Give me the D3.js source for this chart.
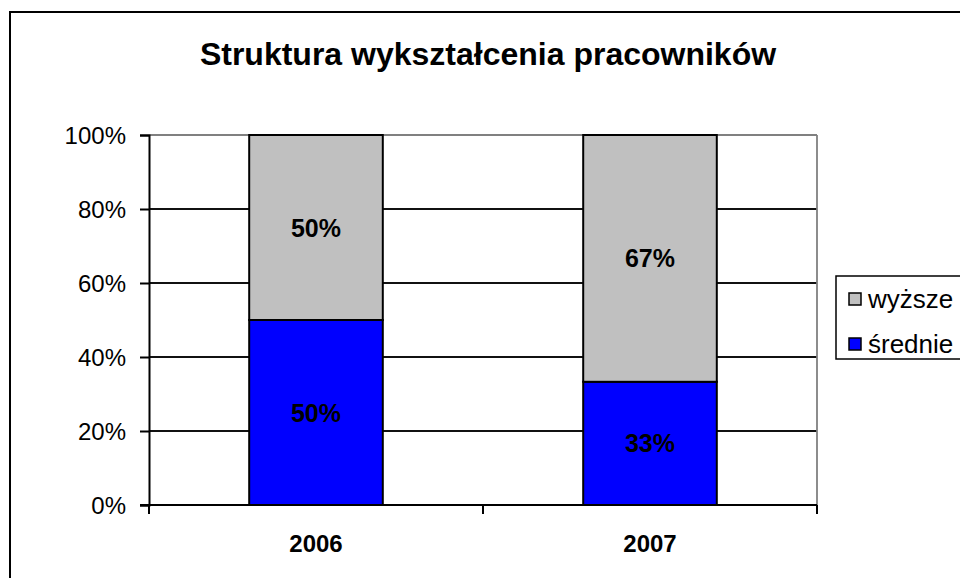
<html>
<head>
<meta charset="utf-8">
<script src="https://d3js.org/d3.v7.min.js"></script>
<style>
  body { margin: 0; background: #fff; }
  text { font-family: "Liberation Sans", Arial, sans-serif; }
</style>
</head>
<body>
<svg id="chart" width="960" height="578"></svg>
<script>
// data
const years = ['2006', '2007'];
const srednie = [50, 33.3];
const wyzsze = [50, 66.7];
const seriesNames = ['wyższe', 'średnie'];
const yTicks = [0, 20, 40, 60, 80, 100];

const svg = d3.select('svg#chart');

// outer chart frame (runs off the right / bottom edge)
svg.append('rect')
  .attr('x', 10).attr('y', 12)
  .attr('width', 1000).attr('height', 620)
  .attr('fill', '#fff').attr('stroke', '#000').attr('stroke-width', 2);

svg.append('text')
  .attr('x', 488).attr('y', 65)
  .attr('text-anchor', 'middle')
  .attr('font-size', 32).attr('font-weight', 'bold')
  .text('Struktura wykształcenia pracowników');

const pLeft = 149, pRight = 817, pTop = 135, pBottom = 505;

const x = d3.scaleBand().domain(years).range([pLeft, pRight])
  .paddingInner(0.6).paddingOuter(0.3);
const y = d3.scaleLinear().domain([0, 100]).range([pBottom, pTop]);

// gridlines
svg.append('g').selectAll('line').data(yTicks.slice(1))
  .join('line')
  .attr('x1', pLeft).attr('x2', pRight)
  .attr('y1', d => y(d)).attr('y2', d => y(d))
  .attr('stroke', d => d === 100 ? '#808080' : '#111')
  .attr('stroke-width', 1.8);

// right border of plot area
svg.append('line')
  .attr('x1', pRight).attr('x2', pRight).attr('y1', pTop).attr('y2', pBottom)
  .attr('stroke', '#808080').attr('stroke-width', 1.8);

// stacked bars
const rows = years.map((yr, i) => ({ year: yr, srednie: srednie[i], wyzsze: wyzsze[i] }));
const stack = d3.stack().keys(['srednie', 'wyzsze'])(rows);
const colors = { srednie: '#0000FF', wyzsze: '#C0C0C0' };

stack.forEach(layer => {
  const g = svg.append('g');
  g.selectAll('rect').data(layer).join('rect')
    .attr('x', d => x(d.data.year))
    .attr('width', x.bandwidth())
    .attr('y', d => y(d[1]))
    .attr('height', d => y(d[0]) - y(d[1]))
    .attr('fill', colors[layer.key])
    .attr('stroke', '#000').attr('stroke-width', 2);
  g.selectAll('text').data(layer).join('text')
    .attr('x', d => x(d.data.year) + x.bandwidth() / 2)
    .attr('y', d => y((d[0] + d[1]) / 2) + 9)
    .attr('text-anchor', 'middle')
    .attr('font-size', 25).attr('font-weight', 'bold')
    .text(d => Math.round(d[1] - d[0]) + '%');
});

// axes
const yAxis = svg.append('g').attr('transform', `translate(${pLeft},0)`)
  .call(d3.axisLeft(y).tickValues(yTicks).tickSize(9).tickPadding(14).tickFormat(d => d + '%'));
yAxis.selectAll('text').attr('font-size', 24).attr('fill', '#000').attr('dy', '0.35em');
yAxis.select('.domain').attr('stroke', '#000').attr('stroke-width', 2);
yAxis.selectAll('.tick line').attr('stroke', '#000').attr('stroke-width', 2);

const xAxis = svg.append('g').attr('transform', `translate(0,${pBottom})`);
xAxis.append('line').attr('x1', pLeft - 9).attr('x2', pRight).attr('stroke', '#000').attr('stroke-width', 2);
const step = x.step();
xAxis.selectAll('line.tk').data([0, 1, 2]).join('line')
  .attr('class', 'tk')
  .attr('x1', d => pLeft + d * step).attr('x2', d => pLeft + d * step)
  .attr('y1', 0).attr('y2', 9)
  .attr('stroke', '#000').attr('stroke-width', 2);
xAxis.selectAll('text').data(years).join('text')
  .attr('x', d => x(d) + x.bandwidth() / 2)
  .attr('y', 47)
  .attr('text-anchor', 'middle')
  .attr('font-size', 24).attr('font-weight', 'bold')
  .text(d => d);

// legend
const legend = svg.append('g');
legend.append('rect')
  .attr('x', 836).attr('y', 276).attr('width', 160).attr('height', 83)
  .attr('fill', '#fff').attr('stroke', '#000').attr('stroke-width', 1.5);
const legendColors = [colors.wyzsze, colors.srednie];
seriesNames.forEach((name, i) => {
  legend.append('rect')
    .attr('x', 849).attr('y', 293 + i * 45).attr('width', 12).attr('height', 12)
    .attr('fill', legendColors[i]).attr('stroke', '#000').attr('stroke-width', 1.5);
  legend.append('text')
    .attr('x', 868).attr('y', 308 + i * 45)
    .attr('font-size', 26)
    .text(name);
});
</script>
</body>
</html>
